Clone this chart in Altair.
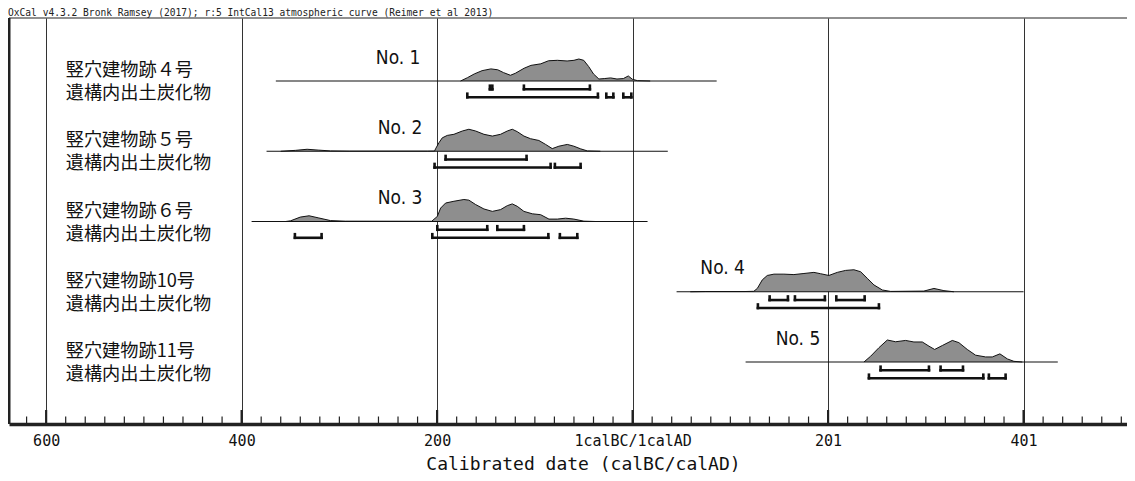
import altair as alt
import pandas as pd

# ---------------- data ----------------
header = "OxCal v4.3.2 Bronk Ramsey (2017); r:5 IntCal13 atmospheric curve (Reimer et al 2013)"
axis_years = [-600, -400, -200, 0, 200, 400]

names = ["No. 1", "No. 2", "No. 3", "No. 4", "No. 5"]
name_years = [-217, -215, -215, 115, 192]
sample_labels = [
    "竪穴建物跡４号\n遺構内出土炭化物",
    "竪穴建物跡５号\n遺構内出土炭化物",
    "竪穴建物跡６号\n遺構内出土炭化物",
    "竪穴建物跡10号\n遺構内出土炭化物",
    "竪穴建物跡11号\n遺構内出土炭化物",
]

# extent of each baseline (years, BC negative)
line_from = [-365, -374.5, -389.8, 45, 115.6]
line_to = [86, 36, 15.3, 400, 435]

# relative probability distributions (year, relative probability)
d1_year = [-176, -169, -162, -154, -145, -138, -132, -125, -120, -111, -104, -94, -86, -77,
           -67, -60, -55, -50, -45, -40, -34.5, -29, -22.5, -16, -9.5, -4.4, -0.3, 5, 18]
d1_prob = [0, 0.15, 0.32, 0.47, 0.55, 0.51, 0.38, 0.26, 0.35, 0.58, 0.71, 0.78, 0.92, 0.94,
           0.91, 0.94, 1.0, 0.94, 0.66, 0.32, 0.09, 0.11, 0.14, 0.09, 0.11, 0.23, 0.08, 0.015, 0]

d2_year = [-360, -345, -333, -321, -309, -290, -210, -202.6, -201.6, -198.2, -194.7, -189.6,
           -182.8, -174.2, -167.5, -160.6, -152.1, -143.5, -135.1, -128.2, -123.1, -118.0,
           -111.2, -104.4, -95.9, -89.0, -82.2, -75.4, -66.8, -60.1, -53.2, -46.3, -33]
d2_prob = [0, 0.04, 0.09, 0.05, 0.015, 0.005, 0.005, 0.01, 0.11, 0.38, 0.61, 0.72,
           0.77, 0.92, 1.0, 0.92, 0.77, 0.69, 0.77, 0.92, 1.0, 0.89,
           0.69, 0.57, 0.49, 0.31, 0.12, 0.23, 0.31, 0.23, 0.11, 0.015, 0]

d3_year = [-355, -350, -340, -331, -321, -309, -294, -211, -205.6, -199.8, -196.4, -191.3,
           -182.8, -172.6, -167.5, -160.6, -152.1, -143.5, -135.1, -128.2, -123.1, -118.0,
           -111.2, -102.6, -94.1, -85.6, -77.0, -68.5, -60.1, -49.8, -38]
d3_prob = [0, 0.03, 0.2, 0.26, 0.16, 0.04, 0.015, 0.01, 0.01, 0.23, 0.61, 0.84,
           0.92, 1.0, 0.97, 0.77, 0.57, 0.46, 0.54, 0.72, 0.80, 0.69,
           0.46, 0.35, 0.31, 0.11, 0.11, 0.15, 0.11, 0.015, 0]

d4_year = [59, 75, 115, 124, 127.6, 132.7, 137.8, 144.6, 154.8, 165.0, 175.3, 185.5, 192.3,
           200.8, 209.4, 217.9, 226.4, 233.3, 240.1, 246.9, 255.5, 264.0, 298.0, 308.3,
           318.5, 328.7]
d4_prob = [0, 0.01, 0.01, 0.02, 0.15, 0.54, 0.74, 0.80, 0.80, 0.78, 0.83, 0.88, 0.82,
           0.74, 0.88, 0.97, 1.0, 0.91, 0.61, 0.31, 0.08, 0.015, 0.03, 0.15,
           0.05, 0]

d5_year = [236.7, 243.5, 252.0, 260.6, 269.1, 279.3, 287.8, 296.4, 303.2, 309.0, 316.9,
           327.1, 333.8, 342.4, 350.9, 361.2, 368.0, 375.8, 383.4, 390.1, 398.7]
d5_prob = [0, 0.26, 0.65, 1.0, 0.92, 0.98, 0.91, 0.91, 0.72, 0.57, 0.75,
           0.98, 0.88, 0.57, 0.31, 0.23, 0.23, 0.37, 0.14, 0.03, 0]

# highest posterior density ranges: 68.2% and 95.4%
r68 = [
    [(-146, -143.5), (-111.2, -43.7)],
    [(-191.3, -108.5)],
    [(-199.8, -148.7), (-138.4, -111.2)],
    [(140.2, 158.9), (166.1, 196.7), (208.4, 237.4)],
    [(253.7, 303.2), (315.1, 338.0)],
]
r95 = [
    [(-169.1, -35.5), (-26.9, -19.7), (-9.5, -1.3)],
    [(-202.6, -83.9), (-79.5, -53.2)],
    [(-345.5, -318.2), (-204.9, -86.2), (-74.4, -56.6)],
    [(128.2, 252.0)],
    [(241.8, 358.8), (364.5, 381.6)],
]

# ---------------- layout ----------------
W, H = 1118, 406
PX_PER_YEAR = 0.97743
ROW_PX = 70.25
PEAK = 22 / ROW_PX
OFF68 = 8.3 / ROW_PX
OFF95 = 16.3 / ROW_PX
TICK_UP = 3.6 / ROW_PX
NAME_UP = 23.5 / ROW_PX
LAB_UP = 10 / ROW_PX

xscale = alt.Scale(domain=[-638, -638 + W / PX_PER_YEAR], nice=False, zero=False)
yscale = alt.Scale(domain=[1 - 63 / ROW_PX, 1 + 343 / ROW_PX], reverse=True, nice=False, zero=False)

NARROW = "Liberation Sans Narrow, DejaVu Sans Condensed, Liberation Sans, sans-serif"
MONO = "DejaVu Sans Mono, Liberation Mono, monospace"
JP = "Noto Sans CJK JP, sans-serif"

AX = alt.Axis(values=axis_years, grid=True, gridColor="#333", gridWidth=1,
              ticks=False, domain=True, domainColor="#222", domainWidth=3.5,
              labelExpr="datum.value == 0 ? '1calBC/1calAD' : (datum.value < 0 ? -datum.value : datum.value + 1)",
              labelFont=MONO, labelFontSize=15, labelColor="#111",
              labelBaseline="middle", labelPadding=16, labelFlush=False,
              title="Calibrated date (calBC/calAD)", titleFont=MONO,
              titleFontSize=18, titleFontWeight="normal", titleColor="#111",
              titleBaseline="middle", titleY=40, titleX=574, titleAnchor="start", titleAlign="center")

X = lambda f: alt.X(f, scale=xscale, axis=AX)
Y = lambda f: alt.Y(f, scale=yscale, axis=None)

dists = [(d1_year, d1_prob), (d2_year, d2_prob), (d3_year, d3_prob), (d4_year, d4_prob), (d5_year, d5_prob)]
rows = []
for i, (ys, ps) in enumerate(dists):
    row = i + 1
    for yr, p in zip(ys, ps):
        rows.append({"id": names[i], "year": yr, "top": row - p * PEAK, "base": row})
dist_df = pd.DataFrame(rows)

base_df = pd.DataFrame({"id": names, "x1": line_from, "x2": line_to,
                        "row": [i + 1 for i in range(5)]})

br_rows, end_rows = [], []
for i in range(5):
    row = i + 1
    for ranges, off in ((r68[i], OFF68), (r95[i], OFF95)):
        for a, b in ranges:
            yb = row + off
            br_rows.append({"x1": a, "x2": b, "y": yb})
            for e in (a, b):
                end_rows.append({"x": e, "y": yb, "y2": yb - TICK_UP})
br_df = pd.DataFrame(br_rows)
end_df = pd.DataFrame(end_rows)

name_df = pd.DataFrame({"name": names, "x": name_years, "y": [i + 1 - NAME_UP for i in range(5)]})
lab_df = pd.DataFrame({"t": sample_labels, "x": [-580] * 5, "y": [i + 1 - LAB_UP for i in range(5)]})

minor = [v for v in range(-620, 501, 20) if v not in axis_years]
minor_df = pd.DataFrame({"x": minor})
major_df = pd.DataFrame({"x": axis_years})

minor_ticks = alt.Chart(minor_df).mark_rule(color="#222", strokeWidth=1.2).encode(
    x=X("x:Q"), y=alt.value(H), y2=alt.value(H - 7.5))
major_ticks = alt.Chart(major_df).mark_rule(color="#222", strokeWidth=2.2).encode(
    x=X("x:Q"), y=alt.value(H), y2=alt.value(H - 14))

left_frame = alt.Chart(major_df.head(1)).mark_rule(color="#222", strokeWidth=3).encode(
    x=alt.value(0), y=alt.value(0), y2=alt.value(H))
top_frame = alt.Chart(major_df.head(1)).mark_rule(color="#222", strokeWidth=1.2).encode(
    x=alt.value(0), x2=alt.value(W), y=alt.value(0))

areas = alt.Chart(dist_df).mark_area(fill="#8e8e8e", fillOpacity=1, interpolate="linear").encode(
    x=X("year:Q"), y=Y("top:Q"), y2="base:Q", detail="id:N")
outlines = alt.Chart(dist_df).mark_line(color="#111", strokeWidth=1).encode(
    x=X("year:Q"), y=Y("top:Q"), detail="id:N")

baselines = alt.Chart(base_df).mark_rule(color="#111", strokeWidth=1.2).encode(
    x=X("x1:Q"), x2="x2:Q", y=Y("row:Q"))

brackets = alt.Chart(br_df).mark_rule(color="#111", strokeWidth=2.6, strokeCap="square").encode(
    x=X("x1:Q"), x2="x2:Q", y=Y("y:Q"))
bracket_ends = alt.Chart(end_df).mark_rule(color="#111", strokeWidth=2.6, strokeCap="square").encode(
    x=X("x:Q"), y=Y("y:Q"), y2="y2:Q")

name_text = alt.Chart(name_df).mark_text(
    align="right", baseline="middle", font=NARROW, fontSize=19, color="#111").encode(
    x=X("x:Q"), y=Y("y:Q"), text="name:N")

label_text = alt.Chart(lab_df).mark_text(
    align="left", baseline="middle", font=JP, fontSize=18.2, lineBreak="\n",
    lineHeight=23, color="#111").encode(
    x=X("x:Q"), y=Y("y:Q"), text="t:N")

header_text = alt.Chart(pd.DataFrame({"t": [header]})).mark_text(
    align="left", baseline="alphabetic", font=MONO, fontSize=9.6, color="#222").encode(
    x=alt.value(-1), y=alt.value(-2), text="t:N")

chart = alt.layer(
    major_ticks, minor_ticks, left_frame, top_frame, areas, outlines, baselines,
    brackets, bracket_ends, name_text, label_text, header_text,
).properties(
    width=W, height=H,
    autosize=alt.AutoSizeParams(type="none"),
    padding={"left": 1, "top": 10, "right": 0, "bottom": 49},
).configure_view(stroke=None)

chart.save("out.html", embed_options={"renderer": "svg", "actions": False})
